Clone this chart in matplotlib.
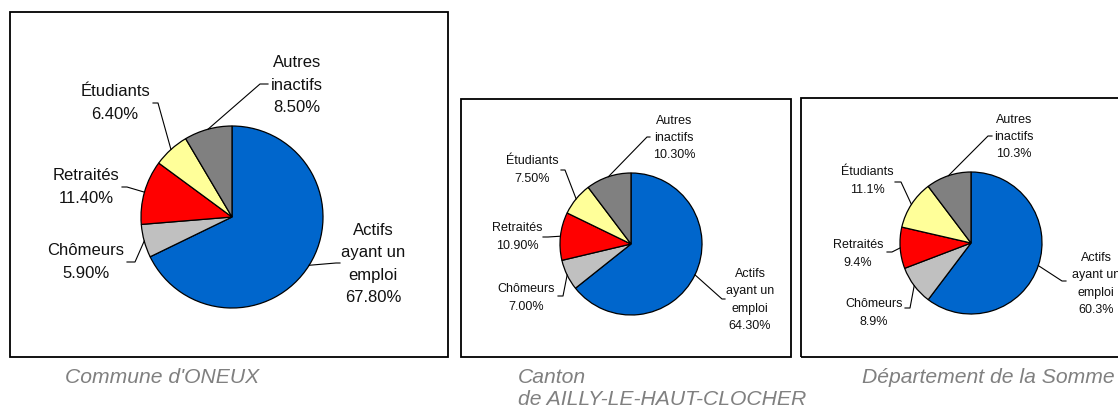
import matplotlib.pyplot as plt
from matplotlib.patches import Rectangle
import numpy as np

plt.rcParams['font.family'] = ['Liberation Sans', 'DejaVu Sans']

W, H = 1118, 410

categories = ['Actifs\nayant un\nemploi', 'Chômeurs', 'Retraités', 'Étudiants', 'Autres\ninactifs']
colors = ['#0066CC', '#C0C0C0', '#FF0000', '#FFFF99', '#808080']

oneux_values = [67.8, 5.9, 11.4, 6.4, 8.5]
canton_values = [64.3, 7.0, 10.9, 7.5, 10.3]
somme_values = [60.3, 8.9, 9.4, 11.1, 10.3]

titles = ["Commune d'ONEUX", "Canton\nde AILLY-LE-HAUT-CLOCHER", "Département de la Somme"]

# layout in pixels, measured from the top-left corner of the figure
panels = [
    dict(values=oneux_values, fmt='{:.2f}%', center=(232, 218), radius=91, fontsize=12,
         box=(10, 13, 448, 358), title_pos=(65, 378),
         labels=[(373, 264), (86, 262), (86, 187), (115, 103), (297, 85)],
         knees=[(336, 264), (135, 263), (127, 188), (158, 104), (260, 85)],
         ends=[(340, 264), (127, 263), (122, 188), (153, 104), (268, 85)]),
    dict(values=canton_values, fmt='{:.2f}%', center=(631, 245), radius=71, fontsize=9,
         box=(461, 100, 791, 358), title_pos=(518, 378),
         labels=[(750, 300), (526, 298), (517, 237), (532, 170), (674, 138)],
         knees=[(722, 300), (563, 297), (548, 238), (565, 171), (647, 138)],
         ends=[(725, 300), (558, 297), (543, 238), (561, 171), (650, 138)]),
    dict(values=somme_values, fmt='{:.1f}%', center=(971, 244), radius=71, fontsize=9,
         box=(801, 99, 1125, 358), title_pos=(862, 378),
         labels=[(1096, 284), (874, 313), (858, 254), (867, 181), (1014, 137)],
         knees=[(1062, 282), (910, 309), (892, 253), (901, 183), (988, 137)],
         ends=[(1066, 282), (905, 309), (887, 253), (895, 183), (992, 137)]),
]


def up(p):
    # flip a top-down pixel position into data coordinates
    return p[0], H - p[1]


fig = plt.figure(figsize=(W / 100, H / 100), dpi=100)
ax = fig.add_axes([0, 0, 1, 1])

for panel in panels:
    x0, y0, x1, y1 = panel['box']
    ax.add_patch(Rectangle((x0, H - y1), x1 - x0, y1 - y0, fill=False,
                           edgecolor='black', linewidth=1.3))

    cx, cy = up(panel['center'])
    r = panel['radius']
    wedges, _ = ax.pie(panel['values'], colors=colors, startangle=90, counterclock=False,
                       center=(cx, cy), radius=r, frame=True,
                       wedgeprops=dict(edgecolor='black', linewidth=0.9))

    for i, w in enumerate(wedges):
        mid = np.deg2rad((w.theta1 + w.theta2) / 2)
        start = (cx + r * np.cos(mid), cy + r * np.sin(mid))
        kx, ky = up(panel['knees'][i])
        ex, ey = up(panel['ends'][i])
        ax.plot([start[0], kx, ex], [start[1], ky, ey], color='black', linewidth=0.8)

        lx, ly = up(panel['labels'][i])
        text = categories[i] + '\n' + panel['fmt'].format(panel['values'][i])
        ax.text(lx, ly, text, ha='center', va='center', multialignment='center',
                fontsize=panel['fontsize'], linespacing=1.6, color='#111111')

# captions under each chart
for panel, title in zip(panels, titles):
    tx, ty = up(panel['title_pos'])
    for j, line in enumerate(title.split('\n')):
        ax.text(tx, ty - 22 * j, line, ha='left', va='center', fontsize=15.2,
                style='italic', color='#808080')

ax.set_xlim(0, W)
ax.set_ylim(0, H)
ax.set_aspect('equal')
ax.axis('off')

fig.savefig('out.png', dpi=100)
